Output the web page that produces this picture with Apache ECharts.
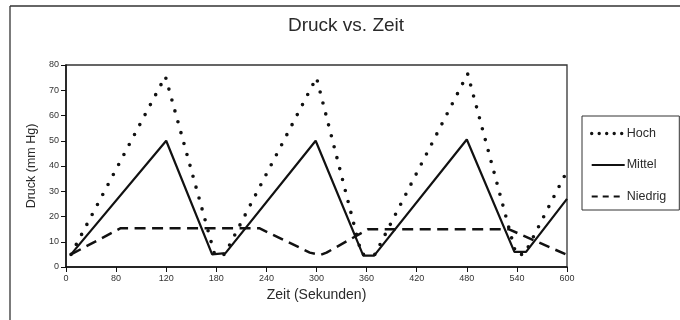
<!DOCTYPE html>
<html>
<head>
<meta charset="utf-8">
<script src="https://cdn.jsdelivr.net/npm/echarts@6/dist/echarts.min.js"></script>
<style>
  html, body { margin: 0; padding: 0; background: #fff; }
  #chart { width: 680px; height: 320px; }
</style>
</head>
<body>
<div id="chart"></div>
<script>
// Pressure readings over time (seconds, mm Hg)
const xTickLabels = ['0', '80', '120', '180', '240', '300', '360', '420', '480', '540', '600'];

const hochTime   = [6, 119, 178, 190, 300, 354, 370, 481, 539, 549, 600];
const hochValue  = [5, 75.5, 5, 5, 75, 5, 5, 76.5, 5, 5, 38];

const mittelTime  = [6, 120, 175, 191, 299, 356, 369, 480, 537, 551, 600];
const mittelValue = [5, 50, 5, 5.5, 50, 4.5, 4.5, 50.5, 6, 6, 27];

const niedrigTime  = [6, 65, 232, 292, 305, 312, 362, 530, 600];
const niedrigValue = [5, 15.3, 15.3, 5.7, 4.8, 5.7, 15, 15, 4.8];

const seriesNames = ['Hoch', 'Mittel', 'Niedrig'];

function pairs(t, v) { return t.map((x, i) => [x, v[i]]); }

const ink = '#111';
const textColor = '#2a2a2a';
const fontFamily = '"Liberation Sans", Arial, sans-serif';

const chart = echarts.init(document.getElementById('chart'), null, { renderer: 'canvas' });

chart.setOption({
  animation: false,
  backgroundColor: '#fff',
  title: {
    text: 'Druck vs. Zeit',
    left: 346,
    textAlign: 'center',
    top: 16,
    padding: 0,
    textStyle: { fontFamily, fontSize: 19, fontWeight: 'normal', color: textColor }
  },
  graphic: [
    { type: 'line', shape: { x1: 10, y1: 6, x2: 680, y2: 6 }, style: { stroke: '#333', lineWidth: 1.3 } },
    { type: 'line', shape: { x1: 10, y1: 6, x2: 10, y2: 320 }, style: { stroke: '#333', lineWidth: 1.3 } }
  ],
  grid: {
    left: 66, right: 113, top: 65, bottom: 53,
    show: true, borderColor: '#333', borderWidth: 1.3, backgroundColor: 'transparent'
  },
  legend: {
    orient: 'vertical',
    left: 582, top: 116,
    padding: [11, 13, 7, 8],
    itemWidth: 33, itemHeight: 14, itemGap: 18.5,
    borderColor: '#333', borderWidth: 1,
    textStyle: { fontFamily, fontSize: 12.5, color: textColor, padding: [0, 0, 0, -3] },
    itemStyle: { opacity: 0 },
    data: [
      { name: seriesNames[0], lineStyle: { type: [0, 7.5], width: 3.4, cap: 'round' } },
      { name: seriesNames[1], lineStyle: { width: 2.2 } },
      { name: seriesNames[2], lineStyle: { type: [6, 5], width: 2 } }
    ]
  },
  xAxis: {
    type: 'value', min: 0, max: 600, interval: 60,
    name: 'Zeit (Sekunden)', nameLocation: 'middle', nameGap: 19,
    nameTextStyle: { fontFamily, fontSize: 14, color: textColor },
    axisLine: { show: true, lineStyle: { color: ink, width: 1.5 } },
    axisTick: { show: true, length: 5, lineStyle: { color: ink, width: 1 } },
    axisLabel: {
      fontFamily, fontSize: 9, color: '#333', margin: 7,
      formatter: (v) => xTickLabels[Math.round(v / 60)]
    },
    splitLine: { show: false }
  },
  yAxis: {
    type: 'value', min: 0, max: 80, interval: 10,
    name: 'Druck (mm Hg)', nameLocation: 'middle', nameGap: 26, nameRotate: 90,
    nameTextStyle: { fontFamily, fontSize: 12.5, color: textColor },
    axisLine: { show: true, lineStyle: { color: ink, width: 1.5 } },
    axisTick: { show: true, length: 5, lineStyle: { color: ink, width: 1 } },
    axisLabel: { fontFamily, fontSize: 9, color: '#333', margin: 7 },
    splitLine: { show: false }
  },
  series: [
    {
      name: seriesNames[0], type: 'line', symbol: 'none',
      data: pairs(hochTime, hochValue),
      lineStyle: { color: ink, width: 3.6, type: [0, 11.3], cap: 'round' },
      itemStyle: { color: ink }, z: 2
    },
    {
      name: seriesNames[1], type: 'line', symbol: 'none',
      data: pairs(mittelTime, mittelValue),
      lineStyle: { color: ink, width: 2.2, type: 'solid' },
      itemStyle: { color: ink }, z: 3
    },
    {
      name: seriesNames[2], type: 'line', symbol: 'none',
      data: pairs(niedrigTime, niedrigValue),
      lineStyle: { color: ink, width: 2.5, type: [11, 6.5] },
      itemStyle: { color: ink }, z: 2
    }
  ]
});
</script>
</body>
</html>
